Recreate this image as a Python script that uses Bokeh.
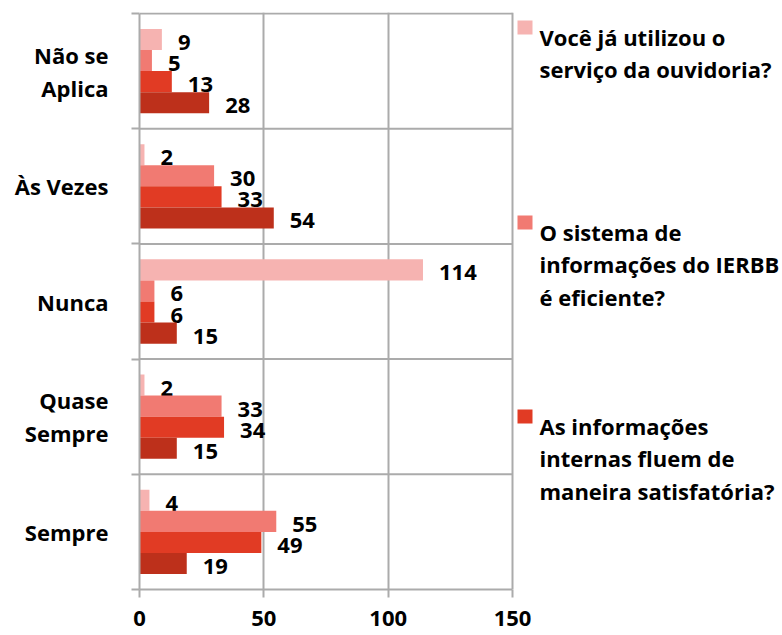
from bokeh.plotting import figure
from bokeh.models import FixedTicker, ColumnDataSource
from bokeh.core.properties import value
from bokeh.embed import file_html
from bokeh.resources import INLINE

# ---- data (categories listed bottom to top) ----
categories = ["Sempre", "Quase Sempre", "Nunca", "Às Vezes", "Não se Aplica"]
category_labels = ["Sempre", "Quase\nSempre", "Nunca", "Às Vezes", "Não se\nAplica"]
ouvidoria = [4, 2, 114, 2, 9]        # Você já utilizou o serviço da ouvidoria?
sistema = [55, 33, 6, 30, 5]         # O sistema de informações do IERBB é eficiente?
informacoes = [49, 34, 6, 33, 13]    # As informações internas fluem de maneira satisfatória?
serie4 = [19, 15, 15, 54, 28]        # fourth series (legend entry cut off)
legend_lines = [
    ["Você já utilizou o", "serviço da ouvidoria?"],
    ["O sistema de", "informações do IERBB", "é eficiente?"],
    ["As informações", "internas fluem de", "maneira satisfatória?"],
]
x_ticks = [0, 50, 100, 150]
x_max = 150

colors = ["#F6B3B1", "#F17A72", "#E13B24", "#BD301B"]
series = [ouvidoria, sistema, informacoes, serie4]
offsets = [0.2745, 0.0915, -0.0915, -0.2745]
bar_h = 0.183
FONT = "Open Sans"
FSIZE = "22px"
GRID = "#ABABAB"
N = len(categories)

# layout in page pixels
W, H = 782, 635
FL, FX, FT, FB = 139, 512, 13, 589      # frame left, x=150 position, top line, bottom
x_end = x_max * (W - FL) / (FX - FL)     # frame extends to the right edge (legend area)
y_end = N * (FB - (FT - 1)) / (FB - FT)

def dx(px):
    return (px - FL) / (FX - FL) * x_max
def dy(py):
    return (FB - py) / (FB - FT) * N

p = figure(width=W, height=H, output_backend="svg", toolbar_location=None,
           x_range=(0, x_end), y_range=(0, y_end),
           min_border_left=FL, min_border_right=0, min_border_top=FT - 1,
           min_border_bottom=H - FB)
p.background_fill_color = "white"
p.border_fill_color = "white"
p.outline_line_color = None

centers = [i + 0.5 for i in range(N)]
bounds = [i for i in range(N + 1)]

# category separators / top border
p.segment(x0=[0] * N, x1=[x_max] * N, y0=bounds[1:], y1=bounds[1:],
          line_color=GRID, line_width=2)

for vals, col, off in zip(series, colors, offsets):
    ys = [c + off for c in centers]
    src = ColumnDataSource(dict(y=ys, right=vals, txt=[str(v) for v in vals]))
    p.hbar(y="y", left=0, right="right", height=bar_h, source=src,
           fill_color=col, line_color=None)
    p.text(x="right", y="y", text="txt", source=src, x_offset=16, y_offset=3,
           text_align="left", text_baseline="middle", text_color="black",
           text_font=value(FONT), text_font_style="bold", text_font_size=FSIZE)

# vertical grid
p.xgrid.ticker = FixedTicker(ticks=x_ticks[1:])
p.xgrid.grid_line_color = GRID
p.xgrid.grid_line_width = 2
p.ygrid.visible = False

# x axis
xa = p.xaxis[0]
xa.ticker = FixedTicker(ticks=x_ticks)
xa.bounds = (0, x_max)
xa.axis_line_color = GRID
xa.axis_line_width = 2
xa.major_tick_line_color = GRID
xa.major_tick_line_width = 2
xa.major_tick_out = 8
xa.major_tick_in = 0
xa.minor_tick_line_color = None
xa.major_label_standoff = 13
xa.major_label_text_font = FONT
xa.major_label_text_font_style = "bold"
xa.major_label_text_font_size = FSIZE
xa.major_label_text_color = "black"
xa.major_label_text_line_height = 0.8

# y axis
ya = p.yaxis[0]
ya.ticker = FixedTicker(ticks=centers, minor_ticks=bounds)
ya.bounds = (0, N)
ya.major_label_overrides = {c: lab for c, lab in zip(centers, category_labels)}
ya.axis_line_color = GRID
ya.axis_line_width = 2
ya.major_tick_out = 0
ya.major_tick_in = 0
ya.major_tick_line_color = None
ya.minor_tick_out = 8
ya.minor_tick_in = 0
ya.minor_tick_line_color = GRID
ya.minor_tick_line_width = 2
ya.major_label_standoff = 23
ya.major_label_text_font = FONT
ya.major_label_text_font_style = "bold"
ya.major_label_text_font_size = FSIZE
ya.major_label_text_color = "black"
ya.major_label_text_line_height = 1.1

# legend (drawn manually: three visible entries, the fourth is cut off)
sq_tops = [20, 215, 409]
first_baselines = [36, 231, 425]
pitch = 32.5
p.quad(left=[dx(517)] * 3, right=[dx(532)] * 3,
       top=[dy(t) for t in sq_tops], bottom=[dy(t + 14) for t in sq_tops],
       fill_color=colors[:3], line_color=None)
lx, ly, lt = [], [], []
for k, lines in enumerate(legend_lines):
    for j, line in enumerate(lines):
        lx.append(dx(539))
        ly.append(dy(first_baselines[k] + j * pitch))
        lt.append(line)
p.text(x=lx, y=ly, text=lt, text_align="left", text_baseline="alphabetic",
       text_color="black", text_font=value(FONT), text_font_style="bold",
       text_font_size=FSIZE)

open("out.html", "w").write(file_html(p, INLINE))
